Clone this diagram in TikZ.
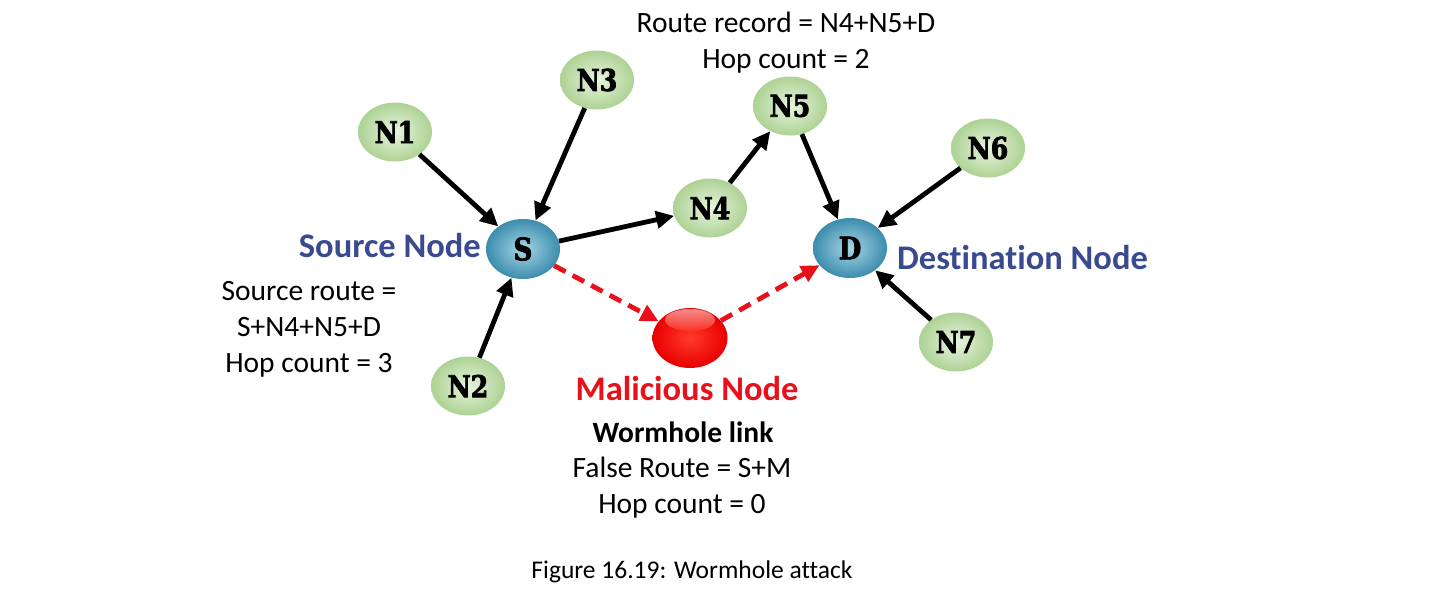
\documentclass[tikz,border=0pt]{standalone}
\usepackage{fontspec}
\setmainfont{Carlito}[Ligatures={NoCommon}]
\newfontfamily\nodefont{DejaVu Serif}[BoldFeatures={FakeBold=2.4,FakeStretch=0.84}]
\usetikzlibrary{arrows.meta,shapes.geometric,shadings}
\definecolor{gin}{HTML}{E8F4DE}
\definecolor{gout}{HTML}{ADD294}
\definecolor{bin}{HTML}{A6D6E6}
\definecolor{bout}{HTML}{3C8CAD}
\definecolor{lblue}{HTML}{3A4A8E}
\definecolor{lred}{HTML}{E8101A}
\definecolor{rin}{HTML}{FF3A2A}
\definecolor{rout}{HTML}{E80000}
\begin{document}
\begin{tikzpicture}[x=1pt,y=-1pt,
  gnode/.style={ellipse,minimum width=74pt,minimum height=59pt,inner sep=0pt,
    inner color=gin,outer color=gout,font=\nodefont\bfseries\fontsize{30}{30}\selectfont},
  bnode/.style={ellipse,minimum width=74pt,minimum height=60pt,inner sep=0pt,
    inner color=bin,outer color=bout,font=\nodefont\bfseries\fontsize{31}{31}\selectfont},
  mnode/.style={ellipse,minimum width=75pt,minimum height=60pt,inner sep=0pt,
    inner color=rin,outer color=rout},
  arr/.style={line width=4.8pt,-{Triangle[length=18pt,width=17pt]},black},
  darr/.style={line width=4.8pt,dash pattern=on 13pt off 8pt,-{Triangle[length=18pt,width=17pt]},lred},
  txt/.style={font=\fontsize{29.5}{36}\selectfont,align=center,inner sep=0pt},
  btxt/.style={font=\bfseries\fontsize{34.5}{36}\selectfont,inner sep=0pt}
]
\useasboundingbox (0,0) rectangle (1456,595);
\node[gnode] (N1) at (395,132) {N1};
\node[gnode] (N3) at (597,80) {N3};
\node[gnode] (N5) at (790,106) {N5};
\node[gnode] (N4) at (710,208) {N4};
\node[gnode] (N6) at (988,148) {N6};
\node[gnode] (N2) at (468,386) {N2};
\node[gnode] (N7) at (956,342) {N7};
\node[bnode] (S) at (523,249) {S};
\node[bnode] (D) at (850,248) {D};
\node[mnode] (M) at (690,338) {};
\shade[top color=white,bottom color=rin,opacity=0.55] (690,320) ellipse [x radius=25pt, y radius=11pt];

\draw[arr] (N1) -- (S);
\draw[arr] (N3) -- (S);
\draw[arr] (N2) -- (S);
\draw[arr] (S) -- (N4);
\draw[arr] (N4) -- (N5);
\draw[arr] (N5) -- (D);
\draw[arr] (N6) -- (D);
\draw[arr] (N7) -- (D);
\draw[darr] (S) -- (M);
\draw[darr] (M) -- (D);

\node[txt] (rr) at (786,43) {Route record = N4+N5+D\\Hop count = 2};
\node[btxt,text=lblue,anchor=east] (sn) at (481,246) {Source Node};
\node[btxt,text=lblue,anchor=west] (dn) at (897,258) {Destination Node};
\node[txt] (sr) at (309,329.5) {Source route =\\S+N4+N5+D\\Hop count = 3};
\node[btxt,text=lred] (mn) at (687,389) {Malicious Node};
\node[btxt,font=\bfseries\fontsize{29.5}{36}\selectfont] (wl) at (683,432) {Wormhole link};
\node[txt] (fr) at (682,487.5) {False Route = S+M\\Hop count = 0};
\node[txt,font=\fontsize{25.5}{30}\selectfont] (cap) at (692,572) {Figure 16.19: Wormhole attack};
\end{tikzpicture}
\end{document}
